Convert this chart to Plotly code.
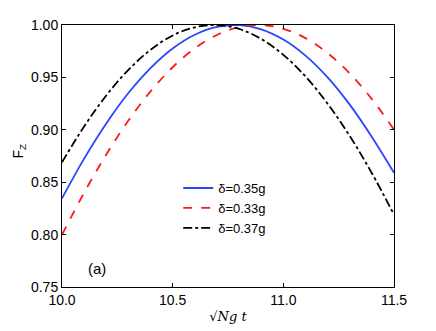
import plotly.graph_objects as go

t = [10.0, 10.1, 10.2, 10.3, 10.4, 10.5, 10.6, 10.7, 10.8, 10.9, 11.0, 11.1, 11.2, 11.3, 11.4, 11.5]
f_035 = [0.8345, 0.8725, 0.9061, 0.9351, 0.9589, 0.9776, 0.9907, 0.9982, 0.9999, 0.9959,
         0.9861, 0.9708, 0.9500, 0.9240, 0.8932, 0.8590]
f_033 = [0.7998, 0.8400, 0.8764, 0.9088, 0.9366, 0.9597, 0.9778, 0.9905, 0.9980, 0.99995,
         0.9964, 0.9875, 0.9732, 0.9538, 0.9293, 0.9002]
f_037 = [0.8690, 0.9032, 0.9327, 0.9572, 0.9763, 0.9900, 0.9978, 0.99994, 0.9962, 0.9867,
         0.9715, 0.9509, 0.9249, 0.8941, 0.8586, 0.8190]
names = ["δ=0.35g", "δ=0.33g", "δ=0.37g"]
x_ticks = [10.0, 10.5, 11.0, 11.5]
y_ticks = [0.75, 0.80, 0.85, 0.90, 0.95, 1.00]

fig = go.Figure()
fig.add_trace(go.Scatter(x=t, y=f_035, name=names[0], mode="lines", line_shape="spline",
                         line=dict(color="#2b45ff", width=1.8)))
fig.add_trace(go.Scatter(x=t, y=f_033, name=names[1], mode="lines", line_shape="spline",
                         line=dict(color="#ff1a1a", width=1.8, dash="dash")))
fig.add_trace(go.Scatter(x=t, y=f_037, name=names[2], mode="lines", line_shape="spline",
                         line=dict(color="black", width=1.8, dash="dashdot")))

fig.update_layout(
    width=428, height=323,
    margin=dict(l=54, r=42, t=17, b=44, autoexpand=False),
    paper_bgcolor="white", plot_bgcolor="white",
    font=dict(family="Liberation Sans, Arial, sans-serif", size=14, color="black"),
    showlegend=True,
    legend=dict(x=0.35, y=0.435, xanchor="left", yanchor="top", bgcolor="rgba(0,0,0,0)",
                font=dict(size=13), tracegroupgap=0, itemwidth=30),
    xaxis=dict(range=[10.0, 11.5], tickvals=x_ticks, ticktext=[f"{v:.1f}" for v in x_ticks],
               ticks="inside", ticklen=4, tickcolor="black", showline=True, linecolor="black",
               linewidth=1, mirror="ticks", showgrid=False, zeroline=False, automargin=False,
               title=dict(text="√<i>N</i><i>g</i> <i>t</i>", standoff=5,
                          font=dict(family="DejaVu Serif, serif", size=13))),
    yaxis=dict(range=[0.75, 1.00], tickvals=y_ticks, ticktext=[f"{v:.2f}" for v in y_ticks],
               ticks="inside", ticklen=4, tickcolor="black", showline=True, linecolor="black",
               linewidth=1, mirror="ticks", showgrid=False, zeroline=False, automargin=False),
    annotations=[
        dict(x=10.16, y=0.768, xref="x", yref="y", text="(a)", showarrow=False,
             font=dict(size=15)),
        dict(x=-0.13, y=0.52, xref="paper", yref="paper", text="F<sub>Z</sub>", showarrow=False,
             textangle=-90, xanchor="center", yanchor="middle", font=dict(size=14)),
    ],
)

fig.write_html("out.html")
